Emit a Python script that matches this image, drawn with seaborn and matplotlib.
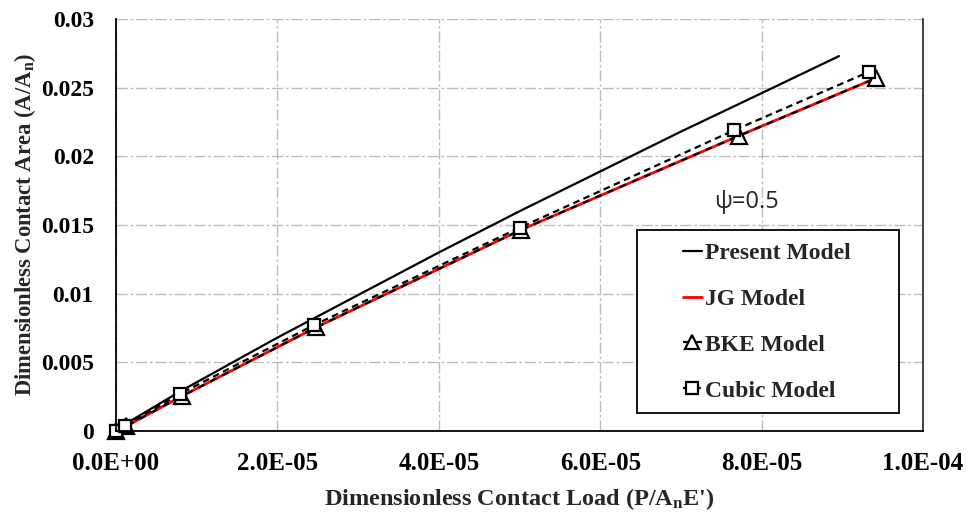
import matplotlib
matplotlib.use("Agg")
import matplotlib.pyplot as plt
import seaborn as sns
from matplotlib.patches import Rectangle
from matplotlib.ticker import FixedLocator

# ---- data ----
present_x = [0, 2e-6, 8e-6, 2.0e-5, 3.0e-5, 4.0e-5, 5.0e-5, 6.0e-5, 7.0e-5, 8.0e-5, 8.96e-5]
present_y = [0, 0.0008, 0.0029, 0.0068, 0.0099, 0.0130, 0.0160, 0.0189, 0.0218, 0.0246, 0.0273]

jg_x = [0, 1.2e-6, 8.2e-6, 2.48e-5, 5.02e-5, 7.72e-5, 9.42e-5]
jg_y = [0, 0.00033, 0.00255, 0.00755, 0.01465, 0.0215, 0.0257]

bke_x = [0, 1.2e-6, 8.2e-6, 2.48e-5, 5.02e-5, 7.72e-5, 9.42e-5]
bke_y = [0, 0.00033, 0.00255, 0.00755, 0.01465, 0.0215, 0.0257]

cubic_x = [0, 1.1e-6, 7.9e-6, 2.45e-5, 5.0e-5, 7.66e-5, 9.33e-5]
cubic_y = [0, 0.00036, 0.0027, 0.0077, 0.0148, 0.0219, 0.02615]

x_ticks = [0, 2e-5, 4e-5, 6e-5, 8e-5, 1e-4]
x_tick_labels = ["0.0E+00", "2.0E-05", "4.0E-05", "6.0E-05", "8.0E-05", "1.0E-04"]
y_ticks = [0, 0.005, 0.01, 0.015, 0.02, 0.025, 0.03]
y_tick_labels = ["0", "0.005", "0.01", "0.015", "0.02", "0.025", "0.03"]

sns.set_style("white")
plt.rcParams["font.family"] = ["Liberation Serif", "DejaVu Serif"]
plt.rcParams["font.weight"] = "bold"
plt.rcParams["mathtext.fontset"] = "custom"
plt.rcParams["mathtext.rm"] = "Liberation Serif:bold"
plt.rcParams["mathtext.it"] = "Liberation Serif:bold"
plt.rcParams["mathtext.bf"] = "Liberation Serif:bold"

W, H = 979, 516
fig = plt.figure(figsize=(W / 100, H / 100), dpi=100)
ax = fig.add_axes([116 / W, (H - 431) / H, (923 - 116) / W, 412 / H])

ms_tri = 11.5
ms_sq = 9

sns.lineplot(x=present_x, y=present_y, ax=ax, color="black", linewidth=1.6,
             label="Present Model", sort=False, clip_on=False)
sns.lineplot(x=jg_x, y=jg_y, ax=ax, color="#ff0000", linewidth=2.0,
             label="JG Model", sort=False, clip_on=False)
sns.lineplot(x=bke_x, y=bke_y, ax=ax, color="black", linewidth=1.6, linestyle=(0, (3, 3)),
             marker="^", markersize=ms_tri, markerfacecolor="white",
             markeredgecolor="black", markeredgewidth=1.6,
             label="BKE Model", sort=False, clip_on=False)
sns.lineplot(x=cubic_x, y=cubic_y, ax=ax, color="black", linewidth=1.6, linestyle=(0, (3, 2)),
             marker="s", markersize=ms_sq, markerfacecolor="white",
             markeredgecolor="black", markeredgewidth=1.6,
             label="Cubic Model", sort=False, clip_on=False)

ax.set_xlim(0, 1e-4)
ax.set_ylim(0, 0.03)
ax.xaxis.set_major_locator(FixedLocator(x_ticks))
ax.yaxis.set_major_locator(FixedLocator(y_ticks))
ax.set_xticklabels(x_tick_labels)
ax.set_yticklabels(y_tick_labels)
ax.tick_params(axis="both", direction="out", length=5, width=1.2, colors="black")
ax.tick_params(axis="x", pad=10, labelsize=18)
ax.tick_params(axis="y", pad=11, labelsize=17)
for lab in ax.get_xticklabels() + ax.get_yticklabels():
    lab.set_fontweight("bold")

ax.grid(True, color="#bdbdbd", linestyle=(0, (8, 2, 2, 2)), linewidth=1.0)
ax.set_axisbelow(True)
for s in ["left", "bottom"]:
    ax.spines[s].set_color("black")
    ax.spines[s].set_linewidth(1.3)
ax.spines["right"].set_color("#333333")
ax.spines["right"].set_linewidth(1.3)
ax.spines["top"].set_visible(False)

ax.set_xlabel(r"Dimensionless Contact Load (P/A$_{n}$E')", fontsize=17.5, fontweight="bold", labelpad=8)
ax.set_ylabel(r"Dimensionless Contact Area (A/A$_{n}$)", fontsize=16.3, fontweight="bold", labelpad=2)

ax.text(0.781, 0.556, "ψ=0.5", transform=ax.transAxes, fontsize=17,
        family=["Open Sans", "DejaVu Sans"], fontweight="normal",
        ha="center", va="center")

# legend frame
rect = Rectangle((0.646, 0.0437), 0.324, 0.444, transform=ax.transAxes,
                 facecolor="white", edgecolor="black", linewidth=1.3, zorder=5,
                 clip_on=False)
ax.add_patch(rect)
leg = ax.legend(loc="center left", bbox_to_anchor=((683 - 116) / 807, 0.2646),
                frameon=False, borderpad=0, borderaxespad=0,
                prop={"family": "Liberation Serif", "weight": "bold", "size": 17},
                handlelength=0.8, handletextpad=0.15, labelspacing=1.03,
                markerscale=0.9)
leg.set_zorder(6)

fig.savefig("out.png", dpi=100)
